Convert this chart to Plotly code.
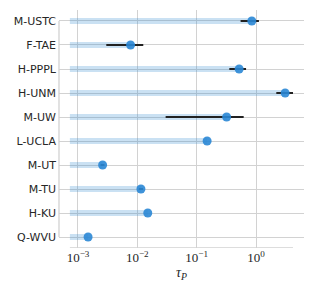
import plotly.graph_objects as go

categories = ["M-USTC", "F-TAE", "H-PPPL", "H-UNM", "M-UW", "L-UCLA", "M-UT", "M-TU", "H-KU", "Q-WVU"]
tau = [0.85, 0.0077, 0.52, 3.1, 0.32, 0.15, 0.0026, 0.0115, 0.015, 0.00148]
tau_lo = [0.55, 0.0030, 0.355, 2.2, 0.030, 0.15, 0.0024, 0.0106, 0.015, 0.00148]
tau_hi = [1.12, 0.0126, 0.68, 4.2, 0.62, 0.15, 0.0028, 0.0125, 0.015, 0.00148]
bar_start = 7.3e-4
tick_vals = [1e-3, 1e-2, 1e-1, 1]
tick_text = ["10<sup>−3</sup>", "10<sup>−2</sup>", "10<sup>−1</sup>", "10<sup>0</sup>"]

GRID = "#d2d2d2"
BLUE = "#2a87d5"

fig = go.Figure()

# light bars from baseline to point
bx, by = [], []
for c, v in zip(categories, tau):
    bx += [bar_start, v, None]
    by += [c, c, None]
fig.add_trace(go.Scatter(x=bx, y=by, mode="lines",
                         line=dict(color="rgba(43,135,209,0.25)", width=6),
                         hoverinfo="skip", showlegend=False))

# error bars
ex, ey = [], []
for c, lo, hi in zip(categories, tau_lo, tau_hi):
    ex += [lo, hi, None]
    ey += [c, c, None]
fig.add_trace(go.Scatter(x=ex, y=ey, mode="lines",
                         line=dict(color="#222222", width=2),
                         hoverinfo="skip", showlegend=False))

# points
fig.add_trace(go.Scatter(x=tau, y=categories, mode="markers",
                         marker=dict(color=BLUE, size=9, opacity=0.9, line=dict(width=0)),
                         showlegend=False, cliponaxis=False))

# bottom spine (trimmed to data range) on overlay axis
fig.add_trace(go.Scatter(x=[bar_start, max(tau_hi)], y=[0, 0], mode="lines",
                         line=dict(color=GRID, width=1.3), yaxis="y2",
                         hoverinfo="skip", showlegend=False, cliponaxis=False))

fig.add_shape(type="line", xref="paper", yref="y", x0=0, x1=0,
              y0=categories[0], y1=categories[-1],
              line=dict(color=GRID, width=1.3))

# page body has an 8px margin, so the figure is 8px smaller and shifted
fig.update_layout(
    width=306, height=285,
    margin=dict(l=51, r=10, t=2, b=45),
    plot_bgcolor="white", paper_bgcolor="white",
    xaxis=dict(type="log", range=[-3.32, 0.809], tickvals=tick_vals, ticktext=tick_text,
               automargin=False,
               showgrid=True, gridcolor=GRID, gridwidth=1.3, zeroline=False,
               showline=False, ticks="", ticklen=0,
               tickfont=dict(family="Liberation Serif, DejaVu Serif, serif", size=13, color="#262626"),
               title=dict(text="<i>τ</i><sub><i>P</i></sub>", standoff=1,
                          font=dict(family="Liberation Serif, DejaVu Serif, serif", size=14, color="#262626"))),
    yaxis=dict(type="category", categoryorder="array", categoryarray=categories,
               automargin=False, ticklabelstandoff=2,
               range=[9.458, -0.458], showgrid=True, gridcolor=GRID, gridwidth=1.3,
               zeroline=False, showline=False, ticks="", ticklen=0,
               tickfont=dict(family="DejaVu Sans, sans-serif", size=11, color="#262626")),
    yaxis2=dict(overlaying="y", range=[0, 1], visible=False, fixedrange=True),
)

fig.write_html("out.html")
